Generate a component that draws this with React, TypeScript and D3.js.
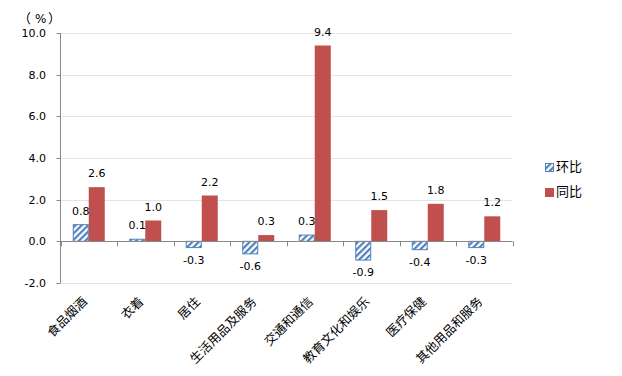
import React from "react";
import * as d3 from "d3";

const categories = ["食品烟酒", "衣着", "居住", "生活用品及服务", "交通和通信", "教育文化和娱乐", "医疗保健", "其他用品和服务"];
const momValues = [0.8, 0.1, -0.3, -0.6, 0.3, -0.9, -0.4, -0.3];
const yoyValues = [2.6, 1.0, 2.2, 0.3, 9.4, 1.5, 1.8, 1.2];
const yTicks = [-2, 0, 2, 4, 6, 8, 10];
const seriesNames = ["环比", "同比"];

const W = 622, H = 376;
const left = 60.5, right = 512.5, top = 33, bottom = 283;
const blue = "#4f81bd";
const red = "#c0504d";
const font = "'DejaVu Sans', Verdana, sans-serif";
const cjk = "'Noto Sans CJK SC', sans-serif";

export default function App() {
  const y = d3.scaleLinear().domain([-2, 10]).range([bottom, top]);
  const x = d3.scaleBand<string>().domain(categories).range([left, right]).paddingInner(0).paddingOuter(0);
  const bw = 16;
  const y0 = y(0);
  return (
    <svg width={W} height={H} style={{ position: "absolute", left: 0, top: 0, background: "#fff" }}>
      <defs>
        <pattern id="hatch" patternUnits="userSpaceOnUse" width="4.5" height="4.5" patternTransform="rotate(45)">
          <rect width="4.5" height="4.5" fill="#fff" />
          <rect width="2.2" height="4.5" fill={blue} />
        </pattern>
      </defs>
      <text x={18} y={23} fontFamily={cjk} fontSize={13} fill="#000">（</text>
      <text x={35} y={23} fontFamily={font} fontSize={12} fill="#000">%</text>
      <text x={48} y={23} fontFamily={cjk} fontSize={13} fill="#000">）</text>
      {yTicks.map((t) => (
        <g key={t}>
          <line x1={left} x2={right} y1={Math.round(y(t)) + 0.5} y2={Math.round(y(t)) + 0.5} stroke="#e4e4e4" />
          <line x1={left - 4} x2={left} y1={Math.round(y(t)) + 0.5} y2={Math.round(y(t)) + 0.5} stroke="#888" />
          <text x={46} y={y(t) + 4} textAnchor="end" fontFamily={font} fontSize={11} fill="#000">{t.toFixed(1)}</text>
        </g>
      ))}
      <line x1={left} x2={left} y1={top} y2={bottom} stroke="#888" />
      {categories.map((c, i) => {
        const cx = (x(c) as number) + x.bandwidth() / 2;
        const m = momValues[i], v = yoyValues[i];
        const mTop = Math.min(y(m), y0), mH = Math.abs(y(m) - y0);
        const vTop = Math.min(y(v), y0), vH = Math.abs(y(v) - y0);
        return (
          <g key={c}>
            <rect x={cx - bw + 0.5} y={mTop} width={bw - 1} height={mH} fill="url(#hatch)" stroke={blue} strokeWidth={1} />
            <rect x={cx} y={vTop} width={bw} height={vH} fill={red} />
            <text x={cx - bw / 2} y={m >= 0 ? y(m) - 10 : y(m) + 16} textAnchor="middle" fontFamily={font} fontSize={11} fill="#000">{m.toFixed(1)}</text>
            <text x={cx + bw / 2} y={v >= 0 ? y(v) - 10 : y(v) + 16} textAnchor="middle" fontFamily={font} fontSize={11} fill="#000">{v.toFixed(1)}</text>
            <text transform={`translate(${cx - 1},${y0 + 61}) rotate(-45)`} textAnchor="end" fontFamily={cjk} fontSize={12.5} fill="#000">{c}</text>
          </g>
        );
      })}
      <line x1={left} x2={right} y1={Math.round(y0) + 0.5} y2={Math.round(y0) + 0.5} stroke="#888" />
      {d3.range(categories.length + 1).map((i) => {
        const tx = Math.round(left + i * x.bandwidth()) + 0.5;
        return <line key={i} x1={tx} x2={tx} y1={y0} y2={y0 + 5} stroke="#888" />;
      })}
      <g>
        <rect x={545.5} y={163.5} width={8} height={8} fill="url(#hatch)" stroke={blue} />
        <text x={556} y={171} fontFamily={cjk} fontSize={13} fill="#000">{seriesNames[0]}</text>
        <rect x={545} y={188} width={9} height={9} fill={red} />
        <text x={556} y={196} fontFamily={cjk} fontSize={13} fill="#000">{seriesNames[1]}</text>
      </g>
    </svg>
  );
}
